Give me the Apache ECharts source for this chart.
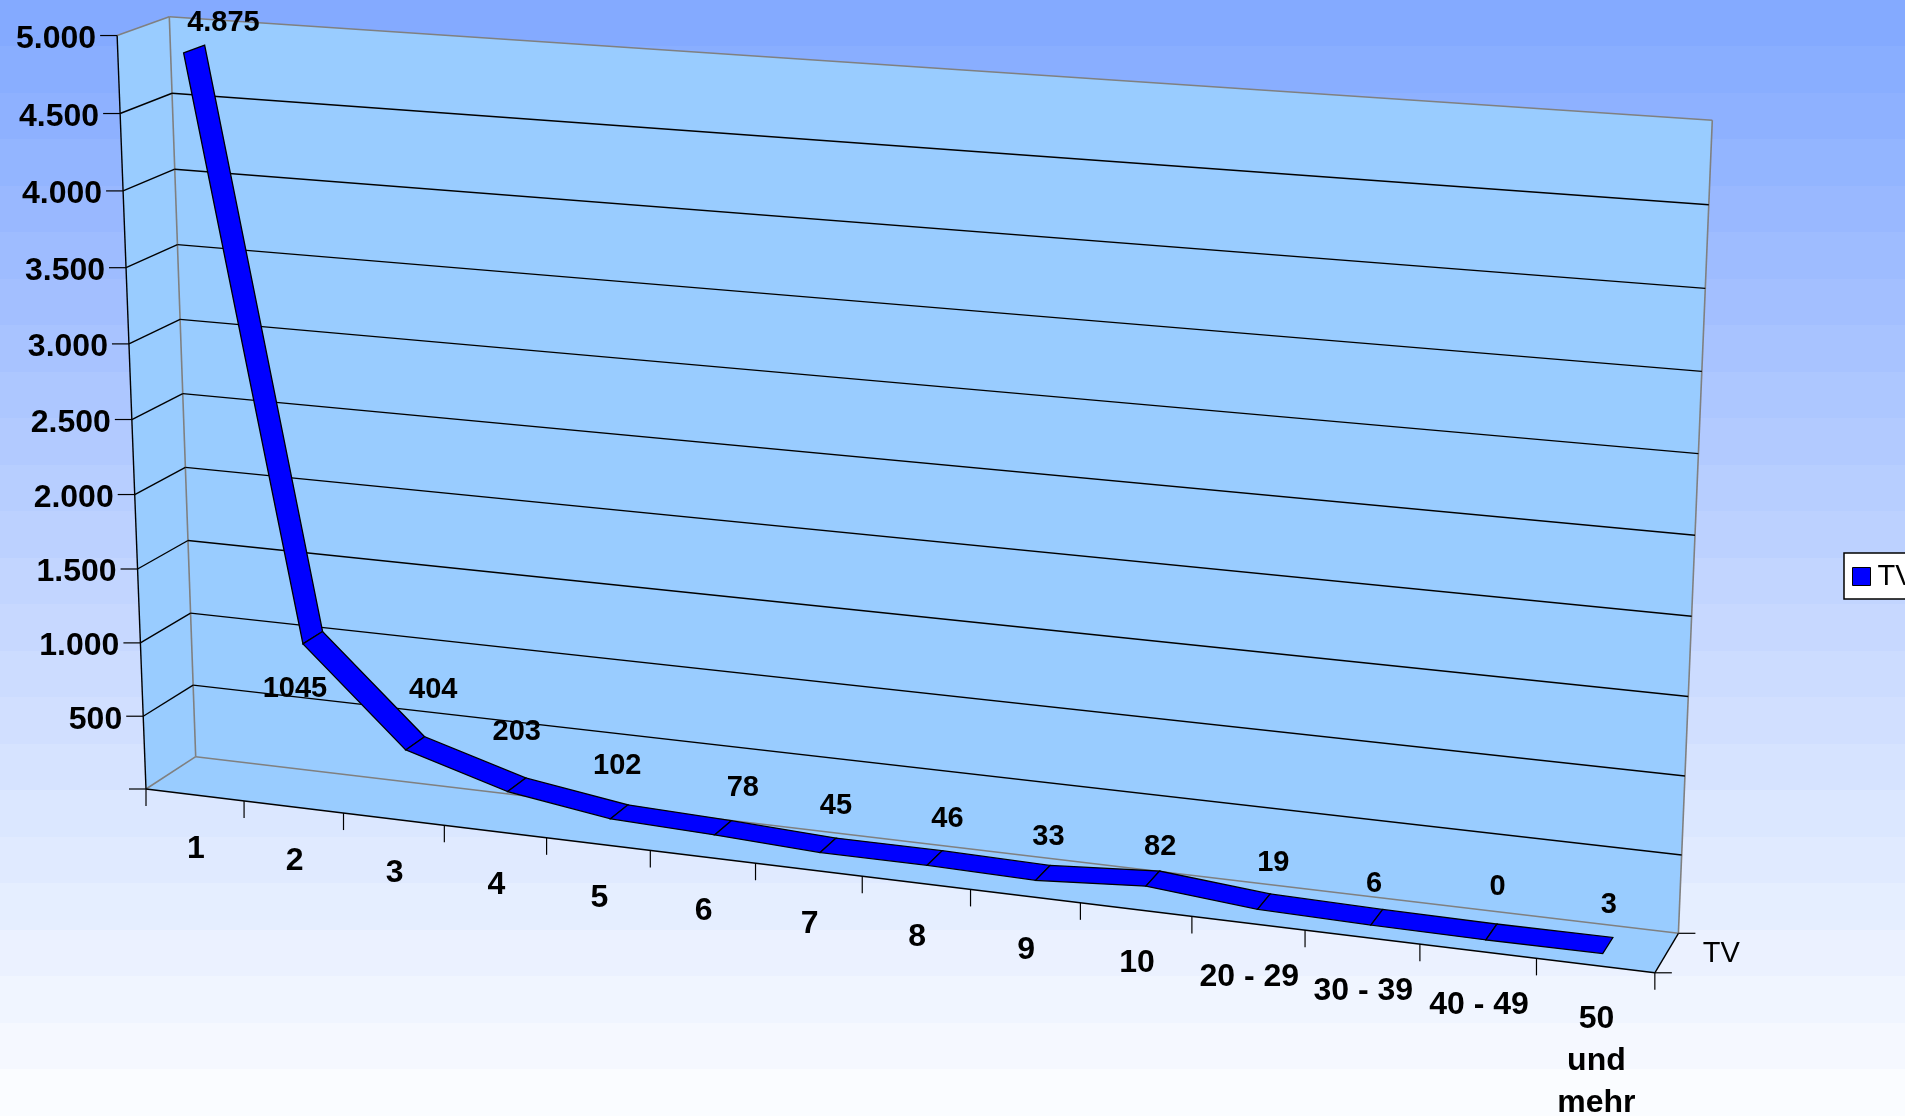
<!DOCTYPE html>
<html><head><meta charset="utf-8">
<style>html,body{margin:0;padding:0;background:#fff}#c{width:1915px;height:1116px}</style>
<script src="https://cdn.jsdelivr.net/npm/echarts@6/dist/echarts.min.js"></script>
</head><body><div id="c"></div>
<script>
// ---- data ----
const categories = ['1','2','3','4','5','6','7','8','9','10','20 - 29','30 - 39','40 - 49','50\nund\nmehr'];
const tvValues = [4875,1045,404,203,102,78,45,46,33,82,19,6,0,3];
const valueLabels = ['4.875','1045','404','203','102','78','45','46','33','82','19','6','0','3'];
const yTicks = [0,500,1000,1500,2000,2500,3000,3500,4000,4500,5000];
const yTickLabels = ['','500','1.000','1.500','2.000','2.500','3.000','3.500','4.000','4.500','5.000'];
const seriesName = 'TV';
// ---- label nudges (style, px) ----
const labelNudge = [[27,-25],[-20,53],[16,-52],[-2,-51],[-4,-44],[18,-38],[6,-38],[11,-37],[4,-34],[6,-30],[8,-37],[-4,-31],[5,-43],[0,-39]];

// ---- projection: plot-rectangle coordinates + depth -> picture ----
const GX=100,GY=100,GW=1400,GH=800;
const BLB=[195.7,756.7],BRB=[1678.4,933.3],BRT=[1712.3,120.3],BLT=[169.3,16.7];
const FLB=[146,789],FRB=[1653.5,972],FLT=[118.5,35.7];
function cross(a,b){return [a[1]*b[2]-a[2]*b[1],a[2]*b[0]-a[0]*b[2],a[0]*b[1]-a[1]*b[0]];}
function dot(a,b){return a[0]*b[0]+a[1]*b[1]+a[2]*b[2];}
const PM=(function(){
  const [x0,y0]=BLB,[x1,y1]=BRB,[x2,y2]=BRT,[x3,y3]=BLT;
  const dx1=x1-x2,dx2=x3-x2,sx=x0-x1+x2-x3,dy1=y1-y2,dy2=y3-y2,sy=y0-y1+y2-y3;
  const den=dx1*dy2-dx2*dy1,g=(sx*dy2-dx2*sy)/den,h=(dx1*sy-sx*dy1)/den;
  const O=[x0,y0,1],X=[x1-x0+g*x1,y1-y0+g*y1,g],Y=[x3-x0+h*x3,y3-y0+h*y3,h];
  const F=[FLB[0],FLB[1],1],Q=[FRB[0],FRB[1],1],R=[FLT[0],FLT[1],1];
  const A=cross(X,Q),B=cross(F,Q),C=cross(Y,R),D=cross(F,R);
  const s=-(dot(A,B)+dot(C,D))/(dot(B,B)+dot(D,D));
  return {O,X,Y,Z:[s*F[0]-O[0],s*F[1]-O[1],s-1]};
})();
function P(u,v,w){
  const m=[0,1,2].map(i=>PM.O[i]+u*PM.X[i]+v*PM.Y[i]+w*PM.Z[i]);
  return [m[0]/m[2],m[1]/m[2]];
}
function at(api,i,val,w,du){
  const c=api.coord([i,val]),band=api.size([1,0])[0];
  return P((c[0]+(du||0)*band-GX)/GW,(GY+GH-c[1])/GH,w);
}
const WALL='#99CCFF',GREY='#808080',BLACK='#000000',BLUE='#0000FF';
const FONT='"Liberation Sans", Arial, sans-serif';
const line=(a,b,stroke,lw)=>({type:'line',shape:{x1:a[0],y1:a[1],x2:b[0],y2:b[1]},style:{stroke,lineWidth:lw||1.4}});
const poly=(pts,fill,stroke,lw)=>({type:'polygon',shape:{points:pts},style:{fill,stroke:stroke||null,lineWidth:lw||0}});
const text=(t,x,y,size,bold,align,va,lh)=>({type:'text',style:{text:t,x,y,fill:BLACK,fontFamily:FONT,fontSize:size,fontWeight:bold?'bold':'normal',textAlign:align,textVerticalAlign:va,textLineHeight:lh,lineHeight:lh}});

const W0=0.30,W1=0.71;
const N=categories.length,last=N-1;

// band colours of the stepped page background
const bgStops=[];
(function(){const n=24,t=[0x84,0xAA,0xFF],e=[0xFA,0xFC,0xFF];
  for(let k=0;k<n;k++){const f=k/(n-1),col='rgb('+t.map((c,j)=>Math.round(c+(e[j]-c)*f)).join(',')+')';
    bgStops.push({offset:k/n,color:col},{offset:(k+1)/n,color:col});}
})();

const option={
  animation:false,
  backgroundColor:{type:'linear',x:0,y:0,x2:0,y2:1,colorStops:bgStops},
  grid:{left:GX,top:GY,width:GW,height:GH,show:false},
  xAxis:{type:'category',data:categories,show:false},
  yAxis:{type:'value',min:0,max:5000,interval:500,show:false},
  legend:{show:true,data:[{name:seriesName,icon:'rect',itemStyle:{color:BLUE,borderColor:BLACK,borderWidth:1}}],left:1844,top:553,orient:'vertical',
    itemWidth:18,itemHeight:18,itemGap:0,padding:[9,16,8,8],backgroundColor:'#FFFFFF',borderColor:BLACK,borderWidth:1.5,borderRadius:0,
    textStyle:{fontFamily:FONT,fontSize:29,color:BLACK,padding:[2,0,0,2]}},
  graphic:[{type:'rect',z:1000,shape:{x:1905,y:0,width:10,height:1116},style:{fill:'#FFFFFF'}}],
  series:[
    {type:'custom',z:1,silent:true,data:[[0,0]],encode:{x:0,y:1},renderItem(p,api){
      const b=w=>at(api,0,0,w,-0.5),e=w=>at(api,last,0,w,0.5),bt=w=>at(api,0,5000,w,-0.5),et=w=>at(api,last,5000,w,0.5);
      return {type:'group',children:[
        poly([bt(1),bt(0),et(0),e(0),e(1),b(1)],WALL),
        line(bt(1),bt(0),GREY,1.6),line(bt(0),et(0),GREY,1.6),line(et(0),e(0),GREY,1.6),
        line(bt(0),b(0),GREY,1.6),line(b(0),e(0),GREY,1.6),line(b(1),b(0),GREY,1.6),
        line(b(1),bt(1),BLACK,1.4),line(b(1),e(1),BLACK,1.4),line(e(1),e(0),BLACK,1.4),
        line(e(0),[e(0)[0]+17,e(0)[1]],BLACK,1.2),line(e(1),[e(1)[0]+17,e(1)[1]],BLACK,1.2),
        text(seriesName,e(0)[0]+43,e(0)[1]+21,29,false,'center','middle')
      ]};
    }},
    {type:'custom',z:2,silent:true,data:yTicks.map(v=>[0,v]),encode:{x:0,y:1},renderItem(p,api){
      const i=p.dataIndex,v=api.value(1),a=at(api,0,v,1,-0.5),b=at(api,0,v,0,-0.5),c=at(api,last,v,0,0.5);
      const ch=[line([a[0]-17,a[1]],a,BLACK,1.2)];
      if(v>0&&v<5000){ch.push(line(a,b,BLACK,1.4),line(b,c,BLACK,1.4));}
      ch.push(text(yTickLabels[i],a[0]-21,a[1]+3.5,32,true,'right','middle'));
      return {type:'group',children:ch};
    }},
    {type:'custom',z:3,silent:true,data:categories.map((c,i)=>[i,0]),encode:{x:0,y:1},renderItem(p,api){
      const i=p.dataIndex,t=at(api,i,0,1,-0.5),l=at(api,i,0,1,0);
      const ch=[line(t,[t[0],t[1]+17],BLACK,1.2),text(categories[i],l[0]+1,l[1]+33,32,true,'center','top',42)];
      if(i===last){const e=at(api,i,0,1,0.5);ch.push(line(e,[e[0],e[1]+17],BLACK,1.2));}
      return {type:'group',children:ch};
    }},
    {type:'custom',name:seriesName,z:4,silent:true,data:tvValues.map((v,i)=>[i,v]),encode:{x:0,y:1},itemStyle:{color:BLUE},renderItem(p,api){
      const i=p.dataIndex,v=api.value(1);
      if(i>=last)return {type:'group',children:[]};
      const n=tvValues[i+1];
      return poly([at(api,i,v,W1),at(api,i,v,W0),at(api,i+1,n,W0),at(api,i+1,n,W1)],BLUE,BLACK,1.3);
    }},
    {type:'custom',z:5,silent:true,data:tvValues.map((v,i)=>[i,v]),encode:{x:0,y:1},renderItem(p,api){
      const i=p.dataIndex,a=at(api,i,api.value(1),0.46);
      return text(valueLabels[i],a[0]+labelNudge[i][0],a[1]+labelNudge[i][1],29,true,'center','middle');
    }}
  ]
};
const chart=echarts.init(document.getElementById('c'),null,{renderer:'canvas',width:1915,height:1116});
chart.setOption(option);
</script></body></html>
